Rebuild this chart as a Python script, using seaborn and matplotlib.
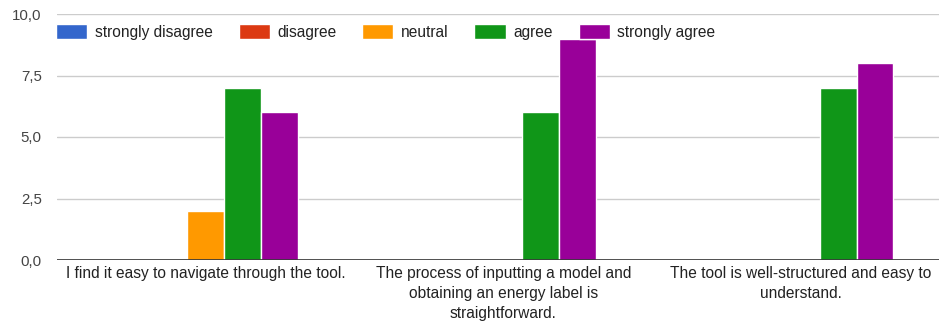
import matplotlib
matplotlib.use("Agg")
import matplotlib.pyplot as plt
import seaborn as sns
import pandas as pd
from matplotlib.ticker import FuncFormatter, MultipleLocator

# Survey statements and response counts per answer level
statements = [
    "I find it easy to navigate through the tool.",
    "The process of inputting a model and obtaining an energy label is straightforward.",
    "The tool is well-structured and easy to understand.",
]
tick_labels = [
    "I find it easy to navigate through the tool.",
    "The process of inputting a model and\nobtaining an energy label is\nstraightforward.",
    "The tool is well-structured and easy to\nunderstand.",
]
levels = ["strongly disagree", "disagree", "neutral", "agree", "strongly agree"]
strongly_disagree = [0, 0, 0]
disagree = [0, 0, 0]
neutral = [2, 0, 0]
agree = [7, 6, 7]
strongly_agree = [6, 9, 8]
colors = ["#3366cc", "#dc3912", "#ff9900", "#109618", "#990099"]

counts = [strongly_disagree, disagree, neutral, agree, strongly_agree]
rows = []
for lvl, vals in zip(levels, counts):
    for st, v in zip(statements, vals):
        rows.append({"statement": st, "response": lvl, "count": v})
df = pd.DataFrame(rows)

sns.set_theme(style="white")
plt.rcParams["font.family"] = ["Liberation Sans", "DejaVu Sans"]

fig = plt.figure(figsize=(9.39, 3.25), dpi=100)
# the plot area runs slightly past the right edge of the canvas
ax = fig.add_axes([57 / 939, 1 - 260 / 325, 893 / 939, (260 - 14) / 325])

sns.barplot(
    data=df, x="statement", y="count", hue="response",
    order=statements, hue_order=levels, palette=colors,
    width=0.62, saturation=1, edgecolor="white", linewidth=1,
    ax=ax, zorder=2,
)

ax.set_ylim(0, 10)
ax.set_xlim(-0.5, 2.5)
ax.yaxis.set_major_locator(MultipleLocator(2.5))
ax.yaxis.set_major_formatter(FuncFormatter(lambda v, _: f"{v:.1f}".replace(".", ",")))
ax.grid(axis="y", color="#cccccc", linewidth=1, zorder=0)
ax.set_axisbelow(True)
ax.axhline(0, color="#333333", linewidth=1.2, zorder=5)
for s in ax.spines.values():
    s.set_visible(False)

ax.set_xticks(range(len(statements)))
ax.set_xticklabels(tick_labels, fontsize=11.2, color="#222222", linespacing=1.42, va="top")
ax.tick_params(axis="x", length=0, pad=4.2)
ax.tick_params(axis="y", length=0, pad=11, labelsize=10.8, labelcolor="#444444")
ax.set_xlabel("")
ax.set_ylabel("")

sns.move_legend(
    ax, "upper left", bbox_to_anchor=(-0.008, 0.985), ncol=5, frameon=False,
    title=None, fontsize=11.2, handlelength=2.0, handleheight=1.1,
    handletextpad=0.5, columnspacing=1.65, borderaxespad=0,
)
for t in ax.get_legend().get_texts():
    t.set_color("#222222")

fig.savefig("out.png", dpi=100)
